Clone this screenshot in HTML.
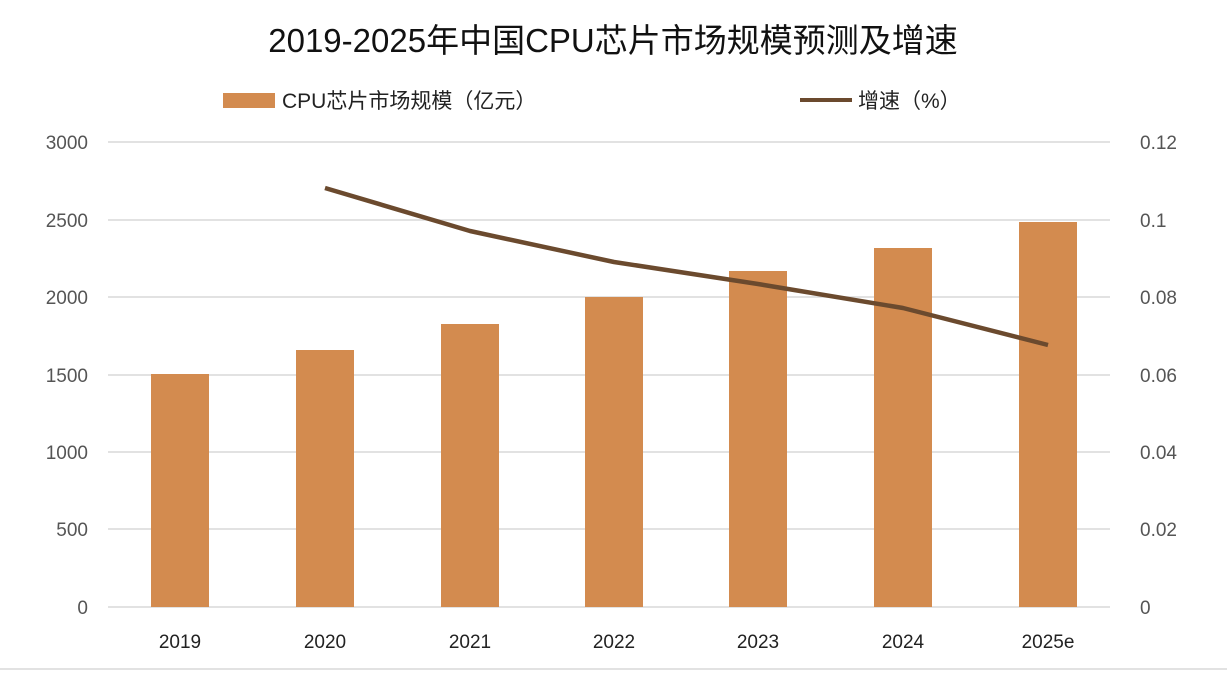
<!DOCTYPE html>
<html><head><meta charset="utf-8"><style>
body{margin:0;background:#fff;}
svg text{font-family:"Liberation Sans","Noto Sans CJK SC",sans-serif;}
</style></head><body>
<svg width="1227" height="683" viewBox="0 0 1227 683" xmlns="http://www.w3.org/2000/svg">
<rect width="1227" height="683" fill="#fff"/>
<text x="613" y="52" text-anchor="middle" font-size="33" fill="#111">2019-2025年中国CPU芯片市场规模预测及增速</text>
<rect x="223" y="93" width="52" height="15" fill="#D38B4F"/>
<text x="282" y="108" font-size="21" fill="#222">CPU芯片市场规模（亿元）</text>
<line x1="800" y1="100" x2="852" y2="100" stroke="#6B4A2E" stroke-width="4"/>
<text x="858" y="108" font-size="21" fill="#222">增速（%）</text>
<g stroke="#d9d9d9" stroke-width="1.5">
<line x1="108" y1="142" x2="1110" y2="142"/>
<line x1="108" y1="220" x2="1110" y2="220"/>
<line x1="108" y1="297" x2="1110" y2="297"/>
<line x1="108" y1="375" x2="1110" y2="375"/>
<line x1="108" y1="452" x2="1110" y2="452"/>
<line x1="108" y1="529" x2="1110" y2="529"/>
<line x1="108" y1="607" x2="1110" y2="607"/>
<line x1="0" y1="669" x2="1227" y2="669"/>
</g>
<g font-size="19" fill="#555" text-anchor="end">
<text x="88" y="149">3000</text><text x="88" y="227">2500</text><text x="88" y="304">2000</text>
<text x="88" y="382">1500</text><text x="88" y="459">1000</text><text x="88" y="536">500</text><text x="88" y="614">0</text>
</g>
<g font-size="19" fill="#555">
<text x="1140" y="149">0.12</text><text x="1140" y="227">0.1</text><text x="1140" y="304">0.08</text>
<text x="1140" y="382">0.06</text><text x="1140" y="459">0.04</text><text x="1140" y="536">0.02</text><text x="1140" y="614">0</text>
</g>
<g fill="#D38B4F">
<rect x="151" y="374" width="58" height="233"/>
<rect x="296" y="350" width="58" height="257"/>
<rect x="441" y="324" width="58" height="283"/>
<rect x="585" y="297" width="58" height="310"/>
<rect x="729" y="271" width="58" height="336"/>
<rect x="874" y="248" width="58" height="359"/>
<rect x="1019" y="222" width="58" height="385"/>
</g>
<g font-size="19" fill="#222" text-anchor="middle">
<text x="180" y="648">2019</text><text x="325" y="648">2020</text><text x="470" y="648">2021</text>
<text x="614" y="648">2022</text><text x="758" y="648">2023</text><text x="903" y="648">2024</text><text x="1048" y="648">2025e</text>
</g>
<polyline points="325,188 470,231 614,262 758,284 903,308 1048,345" fill="none" stroke="#6B4A2E" stroke-width="4.5" stroke-linejoin="round"/>
</svg>
</body></html>
